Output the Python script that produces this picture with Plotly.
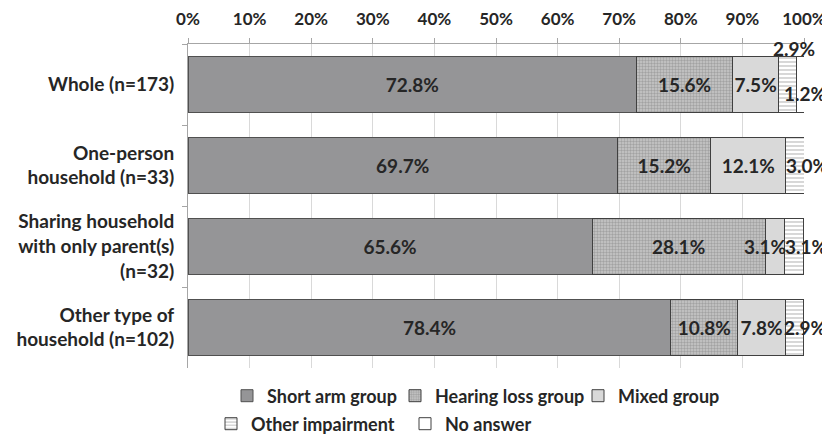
import plotly.graph_objects as go

categories = ["Whole (n=173)",
              "One-person<br>household (n=33)",
              "Sharing household<br>with only parent(s)<br>(n=32)",
              "Other type of<br>household (n=102)"]
series_names = ["Short arm group", "Hearing loss group", "Mixed group",
                "Other impairment", "No answer"]
short_arm = [72.8, 69.7, 65.6, 78.4]
hearing_loss = [15.6, 15.2, 28.1, 10.8]
mixed = [7.5, 12.1, 3.1, 7.8]
other_impairment = [2.9, 3.0, 3.1, 2.9]
no_answer = [1.2, 0.0, 0.0, 0.0]
x_ticks = [0, 10, 20, 30, 40, 50, 60, 70, 80, 90, 100]

values = [short_arm, hearing_loss, mixed, other_impairment, no_answer]

FONT = "Lato"
TXT = "#262626"
# the page body adds an 8px margin, so the figure is drawn 8px smaller
W, H = 822, 427

# label placement for small segments: (series index, row index) -> (xshift, yshift)
outside_labels = {
    (2, 2): (-10, 0),
    (3, 0): (6, 36),
    (4, 0): (5, -9),
    (3, 1): (12, 0),
    (3, 2): (12, 0),
    (3, 3): (11, 0),
}

styles = [
    dict(color="#959597", line=dict(color="#505050", width=1)),
    dict(color="#b0b0b0", line=dict(color="#404040", width=1),
         pattern=dict(shape=".", fgcolor="#7c7c7c", bgcolor="#c8c8c8", size=3, solidity=0.5)),
    dict(color="#d9d9d9", line=dict(color="#404040", width=1)),
    dict(color="white", line=dict(color="#404040", width=1),
         pattern=dict(shape="-", fgcolor="#7a7a7a", bgcolor="white", size=4, solidity=0.3)),
    dict(color="white", line=dict(color="#404040", width=1)),
]
legend_ids = ["legend", "legend2", "legend3", "legend4", "legend5"]
legend_pos = [(219, 388), (387, 388), (570, 388), (203, 416), (397, 416)]

fig = go.Figure()
for si, (name, vals) in enumerate(zip(series_names, values)):
    texts = []
    for ri, v in enumerate(vals):
        if v > 0 and (si, ri) not in outside_labels:
            texts.append(f"{v:.1f}%")
        else:
            texts.append("")
    fig.add_trace(go.Bar(
        y=categories, x=vals, name=name, orientation="h",
        marker=styles[si], text=texts, textposition="inside",
        insidetextanchor="middle", textangle=0,
        insidetextfont=dict(family=FONT, size=19, color=TXT, weight="bold"),
        legend=legend_ids[si], hoverinfo="skip",
    ))

# annotations for small segments, positioned from cumulative data
for (si, ri), (xs, ys) in outside_labels.items():
    start = sum(values[k][ri] for k in range(si))
    v = values[si][ri]
    fig.add_annotation(x=start + v / 2, y=categories[ri], text=f"{v:.1f}%",
                       showarrow=False, xshift=xs, yshift=ys,
                       font=dict(family=FONT, size=19, color=TXT, weight="bold"))

legend_layout = {}
for lid, (px, py) in zip(legend_ids, legend_pos):
    legend_layout[lid] = dict(
        xref="container", yref="container", x=px / W, y=1 - py / H,
        xanchor="left", yanchor="middle", orientation="h",
        bgcolor="rgba(0,0,0,0)", borderwidth=0,
        font=dict(family=FONT, size=18, color=TXT, weight="bold"),
        itemclick=False, itemdoubleclick=False,
    )

fig.update_layout(
    width=W, height=H, barmode="stack", bargap=0.32,
    margin=dict(l=180, r=26, t=36, b=67),
    paper_bgcolor="white", plot_bgcolor="white",
    font=dict(family=FONT, color=TXT),
    uniformtext=dict(minsize=19, mode="show"),
    xaxis=dict(side="top", range=[0, 100], tickvals=x_ticks,
               ticktext=[f"{t}%" for t in x_ticks],
               showgrid=True, gridcolor="#d9d9d9", gridwidth=1,
               showline=True, linecolor="#a6a6a6", linewidth=1,
               ticks="outside", ticklen=5, tickcolor="#a6a6a6",
               ticklabelstandoff=6, zeroline=False, automargin=False,
               tickfont=dict(family=FONT, size=17, color=TXT, weight="bold")),
    yaxis=dict(autorange="reversed", showline=True, linecolor="#a6a6a6",
               ticks="outside", ticklen=5, tickcolor="#a6a6a6",
               tickson="boundaries", showgrid=False, ticklabelstandoff=9,
               automargin=False,
               tickfont=dict(family=FONT, size=19, color=TXT, weight="bold")),
    showlegend=True,
    **legend_layout,
)

fig.write_html("out.html")
